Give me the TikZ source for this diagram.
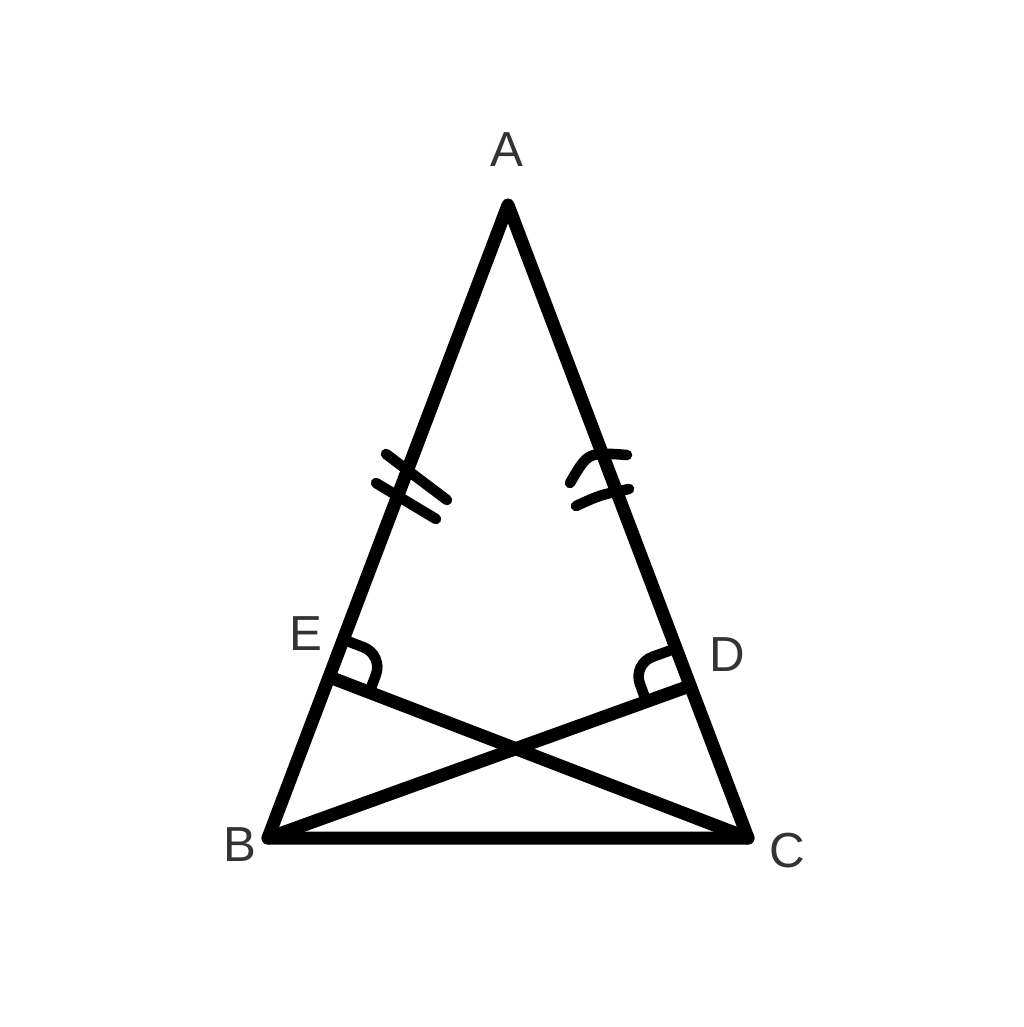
\documentclass[tikz,border=0pt]{standalone}
\usepackage{fontspec}
\setmainfont{Liberation Sans}
\usetikzlibrary{calc}
\begin{document}
\begin{tikzpicture}[x=0.01cm,y=-0.01cm,
  edge/.style={line width=3.7pt,line cap=round,line join=round},
  tickmk/.style={line width=3pt,line cap=round,line join=round},
  lbl/.style={text=black!80,font=\fontsize{14}{16}\selectfont,inner sep=0pt}]
\useasboundingbox (0,0) rectangle (1024,1027);
\coordinate (A) at (508,205);
\coordinate (B) at (268,838);
\coordinate (C) at (748,838);
\coordinate (E) at (332,678);
\coordinate (D) at (684,688);
\draw[edge] (A) -- (B) -- (C) -- cycle;
\draw[edge] (B) -- (D);
\draw[edge] (C) -- (E);
% right angle marks
\path ($(E)!0.4cm!(A)$) coordinate (Ea) ($(E)!0.4cm!(C)$) coordinate (Ec)
      ($(Ea)+(Ec)-(E)$) coordinate (Eq);
\path ($(D)!0.4cm!(A)$) coordinate (Da) ($(D)!0.4cm!(B)$) coordinate (Db)
      ($(Da)+(Db)-(D)$) coordinate (Dq);
\draw[tickmk,rounded corners=6pt] (Ea) -- (Eq) -- (Ec);
\draw[tickmk,rounded corners=6pt] (Da) -- (Dq) -- (Db);
% tick marks on AB
\draw[tickmk] (386,454) -- (447,500);
\draw[tickmk] (376,483) -- (436,519);
% marks on AC
\draw[tickmk] (570,483) .. controls (588,452) .. (627,455);
\draw[tickmk] (576,506) .. controls (600,495) .. (629,489);
\node[lbl] (lA) at (507,150) {A};
\node[lbl] (lB) at (240,845) {B};
\node[lbl] (lC) at (787,851) {C};
\node[lbl] (lE) at (306,634) {E};
\node[lbl] (lD) at (727,655) {D};
\end{tikzpicture}
\end{document}
